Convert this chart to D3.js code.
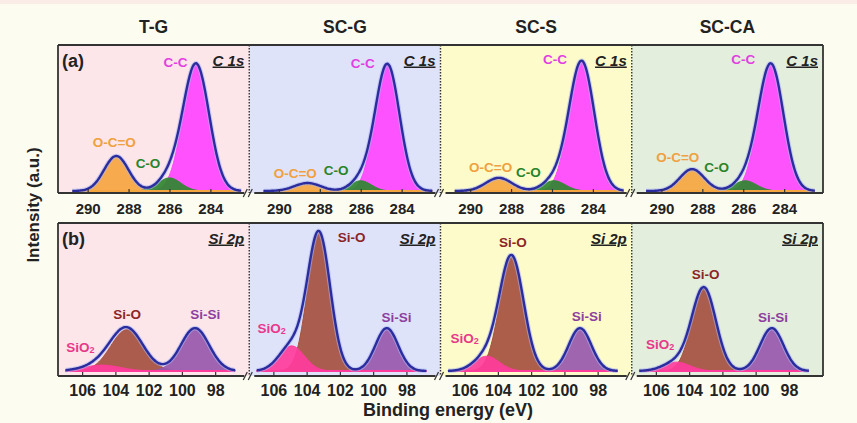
<!DOCTYPE html>
<html lang="en">
<head>
<meta charset="utf-8">
<title>XPS C 1s and Si 2p spectra</title>
<style>
  body { margin: 0; background: #fdfcf0; }
  svg { display: block; font-family: "Liberation Sans", Arial, sans-serif; }
</style>
<script src="https://d3js.org/d3.v7.min.js"></script>
</head>
<body>
<script>
// ---- data ----
const samples = ["T-G", "SC-G", "SC-S", "SC-CA"];
const panelColors = ["#fce6ea", "#dfe3fa", "#fdfbca", "#e4eedc"];

const c1sTicks = [290, 288, 286, 284];
const si2pTicks = [106, 104, 102, 100, 98];

// C 1s components (order: O-C=O, C-O, C-C), per sample
const c1sNames = ["O-C=O", "C-O", "C-C"];
const c1sCenter = [[288.6, 286.0, 284.7], [288.6, 286.0, 284.7], [288.6, 285.9, 284.55], [288.5, 285.9, 284.65]];
const c1sHeight = [[24, 9, 87], [5.5, 7, 87], [9, 7, 89], [15, 7, 87]];
const c1sFwhm = [[1.4, 1.3, 1.5], [1.5, 1.2, 1.4], [1.5, 1.3, 1.45], [1.4, 1.3, 1.45]];
// label anchors [energy, intensity]
const c1sLabelPos = [
  [[288.7, 33], [287.05, 19], [285.7, 88]],
  [[289.2, 12], [287.2, 14], [285.9, 87]],
  [[289.0, 16], [287.15, 13], [285.85, 90]],
  [[289.2, 23], [287.3, 16], [286.0, 90]]
];

// Si 2p components (order: Si-O, Si-Si, SiO2), per sample
const siNames = ["Si-O", "Si-Si", "SiO2"];
const siCenter = [[103.3, 99.21, 104.8], [103.26, 99.18, 104.9], [103.17, 99.06, 104.67], [103.11, 99.03, 104.75]];
const siHeight = [[28, 29, 4], [93, 29, 17], [77, 29, 10], [56, 29, 6]];
const siFwhm = [[2.3, 2.0, 2.6], [1.6, 1.6, 1.8], [1.7, 1.6, 1.8], [1.7, 1.65, 1.9]];
const siLabelPos = [
  [[103.3, 38], [98.6, 38], [106.1, 16]],
  [[101.3, 90], [98.6, 36], [106.1, 29]],
  [[103.1, 87], [98.65, 37], [106.0, 22]],
  [[103.0, 65], [98.95, 36], [105.75, 18]]
];

const c1sFill = ["#f6a640", "#2f872f", "#ff45ff"];
const c1sText = ["#f0a040", "#2a842a", "#e23fe2"];
const siFill = ["#a5503f", "#9858ad", "#ff3c9c"];
const siText = ["#8c2525", "#8c3f9e", "#e8388a"];

// ---- layout ----
const W = 857, H = 423;
const left = 58, right = 823;
const pw = (right - left) / 4;
const rowA = { top: 45, bottom: 193, base: 191, tickFont: 15, pad: 10 };
const rowB = { top: 223, bottom: 376, base: 371, tickFont: 16, pad: 9 };

const svg = d3.select("body").append("svg")
  .attr("width", W).attr("height", H);

svg.append("rect").attr("width", W).attr("height", H).attr("fill", "#fdfcf0");
svg.append("rect").attr("width", W).attr("height", 4).attr("fill", "#fcece8");

const yA = d3.scaleLinear().domain([0, 100]).range([rowA.base, rowA.top]);
const yB = d3.scaleLinear().domain([0, 100]).range([rowB.base, rowB.top]);

const gauss = (e, c, h, f) => {
  const s = f / 2.3548;
  return h * Math.exp(-((e - c) ** 2) / (2 * s * s));
};

function drawPanel(i, row, y, dom, range, ticks, centers, heights, fwhms, fills, names, labelPos, textCols, order, baseCol) {
  const x0 = left + i * pw;
  const x = d3.scaleLinear().domain(dom).range([x0, x0 + pw]);
  const g = svg.append("g");

  g.append("rect")
    .attr("x", x0).attr("y", row.top)
    .attr("width", pw).attr("height", row.bottom - row.top)
    .attr("fill", panelColors[i]);

  const es = d3.range(range[0], range[1] - 1e-9, -0.05);
  const area = d3.area().x(d => x(d[0])).y0(y(0)).y1(d => y(d[1])).curve(d3.curveBasis);
  const line = d3.line().x(d => x(d[0])).y(d => y(d[1])).curve(d3.curveBasis);

  order.forEach(k => {
    const pts = es.map(e => [e, gauss(e, centers[k], heights[k], fwhms[k])]);
    g.append("path").datum(pts)
      .attr("d", area)
      .attr("fill", fills[k])
      .attr("fill-opacity", 0.92)
      .attr("stroke", fills[k])
      .attr("stroke-width", 1);
  });

  // thin coloured strip along the fit baseline
  g.append("line")
    .attr("x1", x(range[0])).attr("x2", x(range[1]))
    .attr("y1", y(0)).attr("y2", y(0))
    .attr("stroke", baseCol).attr("stroke-width", 2);

  const env = es.map(e => [e, d3.sum(centers, (c, k) => gauss(e, c, heights[k], fwhms[k]))]);
  g.append("path").datum(env).attr("d", line)
    .attr("fill", "none").attr("stroke", "#aab6ee").attr("stroke-width", 4.5).attr("stroke-opacity", 0.6);
  g.append("path").datum(env).attr("d", line)
    .attr("fill", "none").attr("stroke", "#2b2d9e").attr("stroke-width", 2.4);

  names.forEach((n, k) => {
    const t = g.append("text")
      .attr("x", x(labelPos[k][0])).attr("y", y(labelPos[k][1]))
      .attr("text-anchor", "middle").attr("dominant-baseline", "central")
      .attr("font-size", 13.5).attr("font-weight", "bold")
      .attr("fill", textCols[k]);
    if (n === "SiO2") {
      t.append("tspan").text("SiO");
      t.append("tspan").text("2").attr("font-size", 9).attr("dy", 3);
    } else {
      t.text(n);
    }
  });

  const ax = g.append("g")
    .attr("transform", `translate(0,${row.bottom})`)
    .call(d3.axisBottom(x).tickValues(ticks).tickSize(-4).tickPadding(row.pad).tickFormat(d3.format("d")));
  ax.select(".domain").remove();
  ax.selectAll("line").attr("stroke", "#333").attr("stroke-width", 1.2);
  ax.selectAll("text")
    .attr("font-size", row.tickFont).attr("font-weight", "bold")
    .attr("fill", "#222").attr("font-family", "Liberation Sans, Arial, sans-serif");
}

samples.forEach((s, i) => {
  drawPanel(i, rowA, yA, [291.45, 282.1], [290.75, 282.5], c1sTicks,
    c1sCenter[i], c1sHeight[i], c1sFwhm[i], c1sFill, c1sNames, c1sLabelPos[i], c1sText, [0, 2, 1], "#f6a640");
  drawPanel(i, rowB, yB, [107.45, 95.95], [107.0, 96.8], si2pTicks,
    siCenter[i], siHeight[i], siFwhm[i], siFill, siNames, siLabelPos[i], siText, [0, 1, 2], "#ff3c9c");

  svg.append("text")
    .attr("x", left + i * pw + pw / 2).attr("y", 32.5)
    .attr("text-anchor", "middle")
    .attr("font-size", 17.5).attr("font-weight", "bold").attr("fill", "#222")
    .text(s);
});

// frames, dotted dividers, broken bottom axes
[rowA, rowB].forEach((row, r) => {
  const f = svg.append("g").attr("stroke", "#333").attr("fill", "none");
  f.append("line").attr("x1", left).attr("x2", right).attr("y1", row.top).attr("y2", row.top).attr("stroke-width", 1.8);
  f.append("line").attr("x1", left).attr("x2", left).attr("y1", row.top).attr("y2", row.bottom).attr("stroke-width", 1.8);
  f.append("line").attr("x1", right).attr("x2", right).attr("y1", row.top).attr("y2", row.bottom).attr("stroke-width", 1.8);
  for (let i = 1; i < 4; i++) {
    const xb = left + i * pw;
    f.append("line").attr("x1", xb).attr("x2", xb).attr("y1", row.top).attr("y2", row.bottom)
      .attr("stroke-width", 1.4).attr("stroke-dasharray", "1.5,1.5");
  }
  for (let i = 0; i < 4; i++) {
    const a = left + i * pw + (i === 0 ? 0 : 5);
    const b = left + (i + 1) * pw - (i === 3 ? 0 : 5);
    f.append("line").attr("x1", a).attr("x2", b).attr("y1", row.bottom).attr("y2", row.bottom).attr("stroke-width", 1.8);
  }
  for (let i = 1; i < 4; i++) {
    const xb = left + i * pw;
    [-4, 1].forEach(dx => {
      f.append("line")
        .attr("x1", xb + dx - 2).attr("y1", row.bottom + 4)
        .attr("x2", xb + dx + 2).attr("y2", row.bottom - 4)
        .attr("stroke-width", 1.2);
    });
  }

  // panel tags
  svg.append("text").attr("x", 62).attr("y", row.top + 22)
    .attr("font-size", 18).attr("font-weight", "bold").attr("fill", "#222")
    .text(r === 0 ? "(a)" : "(b)");
  for (let i = 0; i < 4; i++) {
    svg.append("text")
      .attr("x", left + (i + 1) * pw - 5).attr("y", row.top + 20.5)
      .attr("text-anchor", "end")
      .attr("font-size", 15).attr("font-weight", "bold").attr("font-style", "italic")
      .attr("text-decoration", "underline")
      .attr("fill", "#222")
      .text(r === 0 ? "C 1s" : "Si 2p");
  }
});

svg.append("text")
  .attr("transform", "translate(39,205) rotate(-90)")
  .attr("text-anchor", "middle")
  .attr("font-size", 17).attr("font-weight", "bold").attr("fill", "#222")
  .text("Intensity (a.u.)");

svg.append("text")
  .attr("x", 448).attr("y", 416)
  .attr("text-anchor", "middle")
  .attr("font-size", 18).attr("font-weight", "bold").attr("fill", "#222")
  .text("Binding energy (eV)");
</script>
</body>
</html>
